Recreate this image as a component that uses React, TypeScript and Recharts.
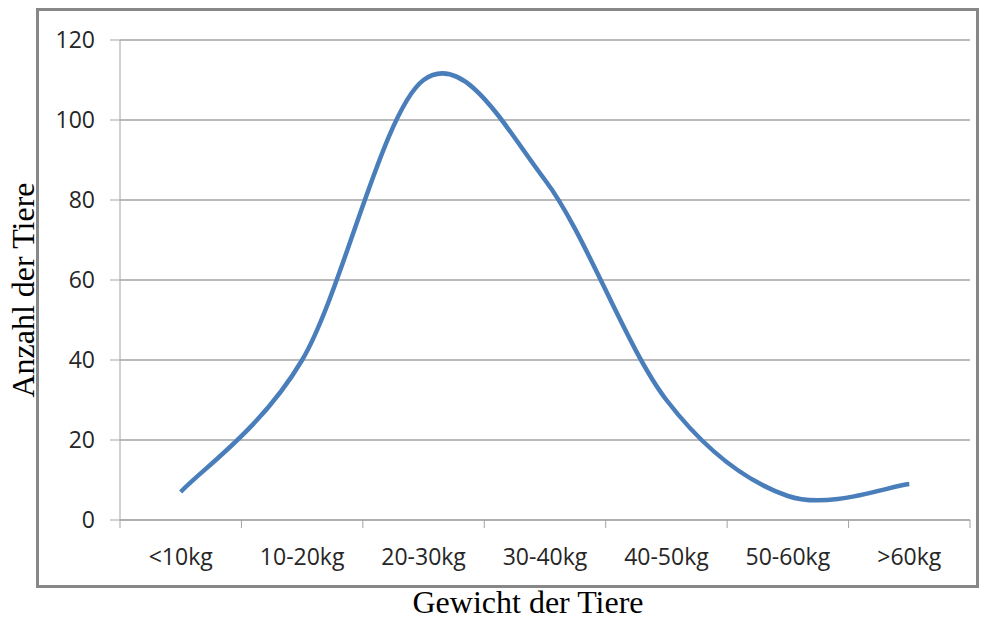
// Gewichtsverteilung der Tiere (geglättete Linie)
import { LineChart, Line, XAxis, YAxis, CartesianGrid } from 'recharts';

const categories = ['<10kg', '10-20kg', '20-30kg', '30-40kg', '40-50kg', '50-60kg', '>60kg'];
const counts = [7, 40, 110, 85, 30, 6, 9];
const yTicks = [0, 20, 40, 60, 80, 100, 120];

const data = categories.map((name, i) => ({ pos: i + 0.5, name, count: counts[i] }));
const boundaryTicks = categories.map((_, i) => i).concat(categories.length);
const centerTicks = data.map((d) => d.pos);

// Excel-ähnliche Glättung (Catmull-Rom als Bezier)
function excelSmooth(context: any) {
    let pts: number[][] = [];
    return {
        areaStart() {},
        areaEnd() {},
        lineStart() {
            pts = [];
        },
        point(x: number, y: number) {
            pts.push([+x, +y]);
        },
        lineEnd() {
            if (!pts.length) return;
            context.moveTo(pts[0][0], pts[0][1]);
            for (let i = 0; i < pts.length - 1; i++) {
                const p0 = pts[i - 1] || pts[i];
                const p1 = pts[i];
                const p2 = pts[i + 1];
                const p3 = pts[i + 2] || p2;
                context.bezierCurveTo(
                    p1[0] + (p2[0] - p0[0]) / 6,
                    p1[1] + (p2[1] - p0[1]) / 6,
                    p2[0] - (p3[0] - p1[0]) / 6,
                    p2[1] - (p3[1] - p1[1]) / 6,
                    p2[0],
                    p2[1]
                );
            }
        },
    };
}

const gray = '#a3a3a3';
const tickFont = { fontSize: 23, fill: '#262626', fontFamily: '"Open Sans", sans-serif' };

export default function App() {
    return (
        <div style={{ position: 'absolute', left: 0, top: 0, width: 987, height: 621, background: '#fff' }}>
            <div
                style={{
                    position: 'absolute',
                    left: 36,
                    top: 8,
                    width: 943,
                    height: 580,
                    border: '3px solid #878787',
                    boxSizing: 'border-box',
                }}
            />
            <div style={{ position: 'absolute', left: 0, top: 0 }}>
                <LineChart width={987} height={621} data={data} margin={{ top: 40, right: 17, left: 0, bottom: 41 }}>
                    <CartesianGrid vertical={false} stroke={gray} strokeWidth={1.3} />
                    <XAxis
                        xAxisId="bounds"
                        dataKey="pos"
                        type="number"
                        domain={[0, categories.length]}
                        ticks={boundaryTicks}
                        tickFormatter={() => ''}
                        tickSize={8}
                        height={1}
                        stroke={gray}
                        interval={0}
                    />
                    <XAxis
                        xAxisId="labels"
                        dataKey="pos"
                        type="number"
                        domain={[0, categories.length]}
                        ticks={centerTicks}
                        tickFormatter={(v: number) => categories[Math.floor(v)]}
                        axisLine={false}
                        tickLine={false}
                        tickSize={0}
                        tickMargin={28}
                        height={59}
                        tick={tickFont}
                        interval={0}
                        label={{
                            content: () => (
                                <text
                                    x={528}
                                    y={613}
                                    textAnchor="middle"
                                    fontFamily='"Liberation Serif", "Times New Roman", serif'
                                    fontSize={32}
                                    fill="#000"
                                >
                                    Gewicht der Tiere
                                </text>
                            ),
                        }}
                    />
                    <YAxis
                        width={120}
                        domain={[0, 120]}
                        ticks={yTicks}
                        tickSize={10}
                        tickMargin={15}
                        stroke={gray}
                        tick={tickFont}
                        interval={0}
                        label={{
                            content: () => (
                                <text
                                    x={34}
                                    y={290}
                                    transform="rotate(-90 34 290)"
                                    textAnchor="middle"
                                    fontFamily='"Liberation Serif", "Times New Roman", serif'
                                    fontSize={32}
                                    fill="#000"
                                >
                                    Anzahl der Tiere
                                </text>
                            ),
                        }}
                    />
                    <Line
                        xAxisId="labels"
                        dataKey="count"
                        type={excelSmooth as any}
                        stroke="#4a7ebb"
                        strokeWidth={4.5}
                        dot={false}
                        isAnimationActive={false}
                    />
                </LineChart>
            </div>
        </div>
    );
}
